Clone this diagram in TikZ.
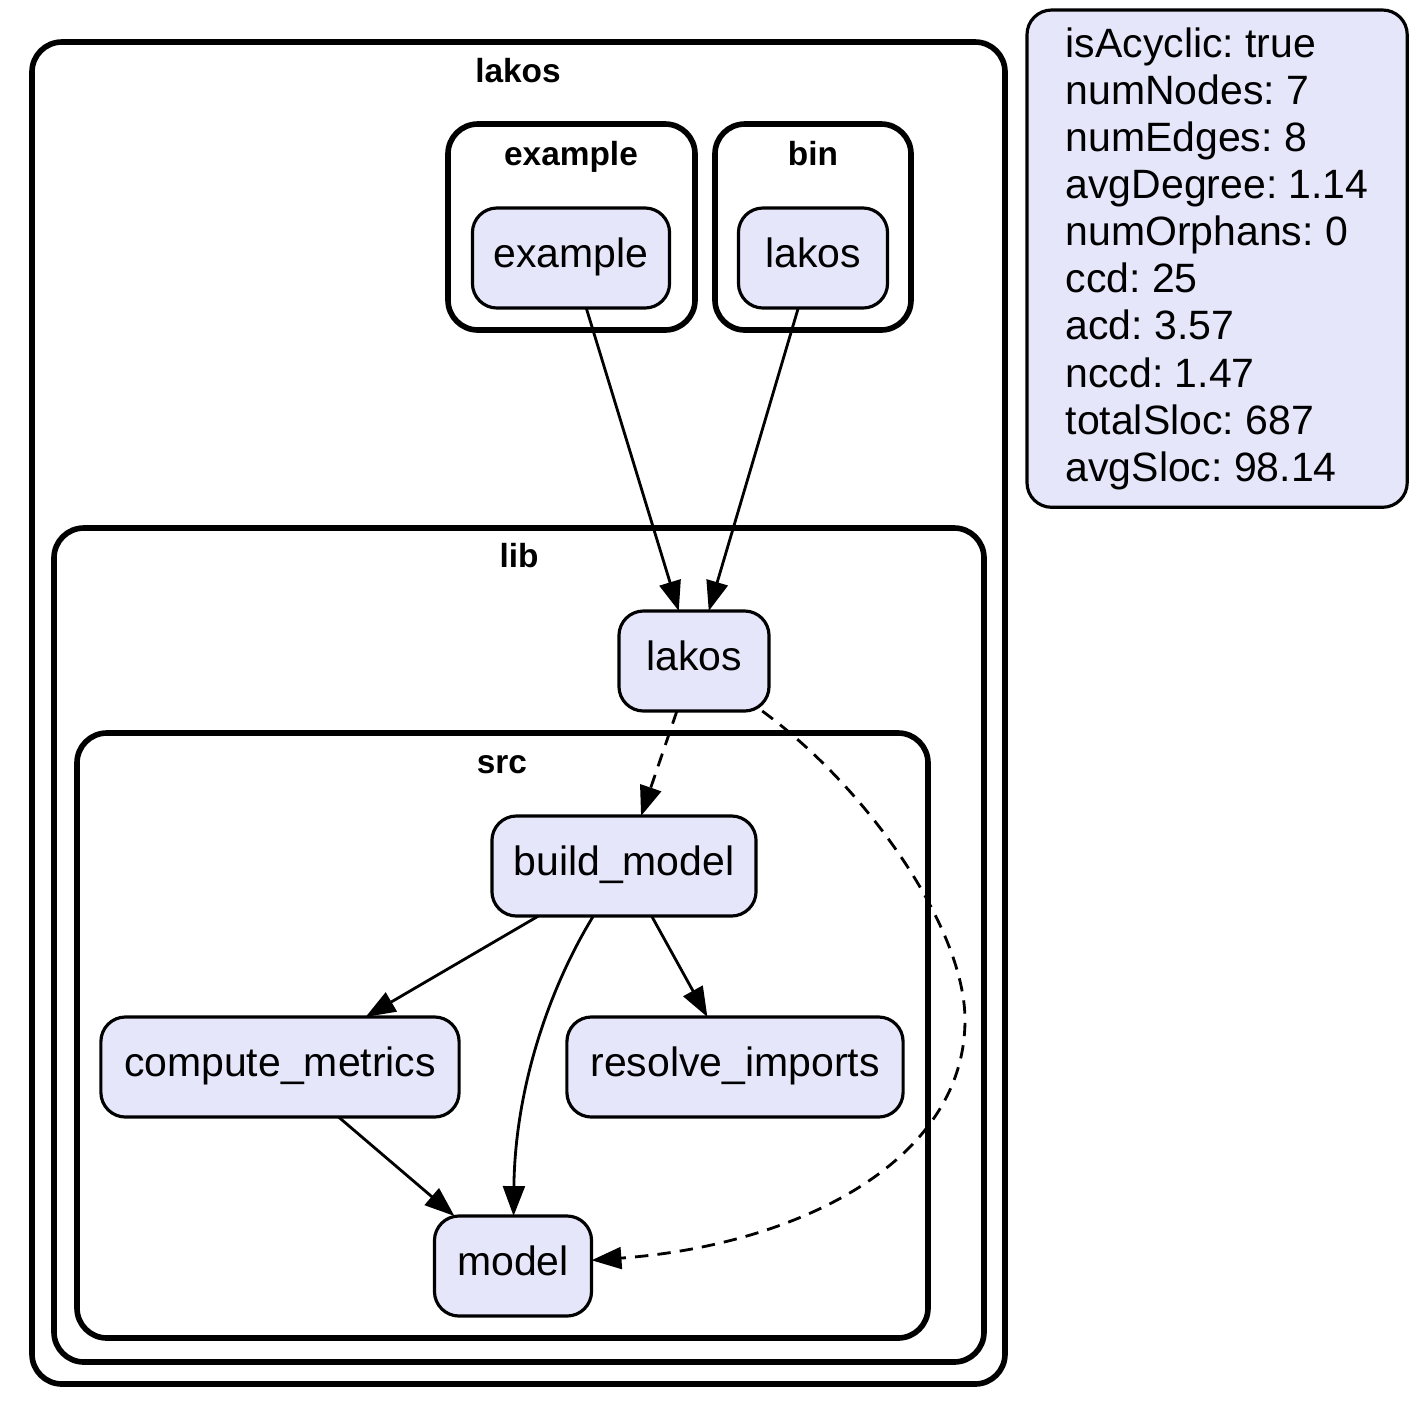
\documentclass[tikz,border=0pt]{standalone}
\usepackage{fontspec}
\setmainfont{Liberation Sans}
\usetikzlibrary{arrows.meta, positioning}
\definecolor{modfill}{RGB}{230,230,250}

\begin{document}
\frenchspacing
\begin{tikzpicture}[x=0.01cm, y=-0.01cm, % pixel grid, y downwards
          > = {Triangle[length=8.5pt, width=6.2pt]},
  mod/.style = {draw, line width=0.9pt, fill=modfill,
                rounded corners=7pt, minimum height=1cm,
                inner sep=0pt, outer sep=0pt,
                text height=7.8pt, text depth=2.5pt,
                font=\fontsize{11.65}{13.4}\selectfont},
  pkg/.style = {draw, line width=1.6pt, rounded corners=8.5pt},
 plab/.style = {anchor=base, inner sep=0pt,
                font=\fontsize{9.5}{11}\selectfont\bfseries},
  dep/.style = {->, line width=0.8pt},
 weak/.style = {dep, dash pattern=on 3.8pt off 2.6pt}
                    ]
	\useasboundingbox (0,0) rectangle (1417,1417);

	% packages
	\draw[pkg] (32,42)   rectangle (1005,1384);
	\draw[pkg] (448,124) rectangle (695,330);
	\draw[pkg] (715,124) rectangle (911,330);
	\draw[pkg] (54,528)  rectangle (984,1362);
	\draw[pkg] (77,733)  rectangle (928,1338);
	\node[plab] (lakosl)   at (518,82)  {lakos};
	\node[plab] (examplel) at (571,165) {example};
	\node[plab] (binl)     at (813,165) {bin};
	\node[plab] (libl)     at (519,567) {lib};
	\node[plab] (srcl)     at (502,773) {src};

	% modules
	\node[mod, minimum width=1.97cm] (ex)       at (571,258)  {example};
	\node[mod, minimum width=1.49cm] (binlakos) at (813,258)  {lakos};
	\node[mod, minimum width=1.50cm] (liblakos) at (694,661)  {lakos};
	\node[mod, minimum width=2.64cm] (bm)       at (624,866)  {build\_model};
	\node[mod, minimum width=3.58cm] (cm)       at (280,1067) {compute\_metrics};
	\node[mod, minimum width=3.36cm] (ri)       at (735,1067) {resolve\_imports};
	\node[mod, minimum width=1.57cm] (model)    at (513,1266) {model};

	% metrics
	\node[mod, anchor=north west, minimum width=3.8cm, minimum height=4.97cm,
	      text height=, text depth=, align=left] (stats) at (1027,10)
	     {isAcyclic: true\\ numNodes: 7\\ numEdges: 8\\ avgDegree: 1.14\\
	      numOrphans: 0\\ ccd: 25\\ acd: 3.57\\ nccd: 1.47\\
	      totalSloc: 687\\ avgSloc: 98.14};

	% dependencies
	\draw[dep]  (ex) -- (liblakos);
	\draw[dep]  (binlakos) -- (liblakos);
	\draw[weak] (liblakos) -- (bm);
	\draw[weak] (liblakos) .. controls (870,790) and (965,930) .. (965,1020)
	                       .. controls (965,1160) and (800,1245) .. (model);
	\draw[dep]  (bm) -- (cm);
	\draw[dep]  (bm) .. controls (548,990) and (515,1090) .. (model);
	\draw[dep]  (bm) -- (ri);
	\draw[dep]  (cm) -- (model);
\end{tikzpicture}
\end{document}
